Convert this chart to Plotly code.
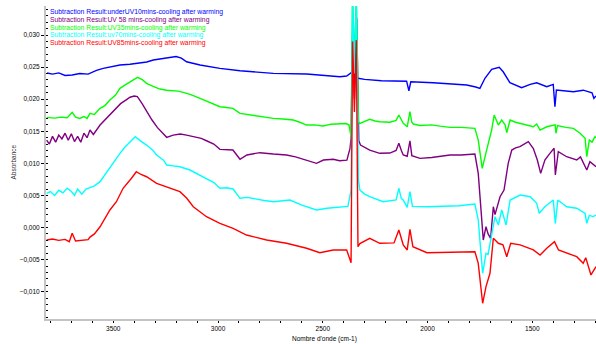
import plotly.graph_objects as go

# ---------------- data ----------------
series_names = [
    "Subtraction Result:underUV10mins-cooling after warming",
    "Subtraction Result:UV 58 mins-cooling after warming",
    "Subtraction Result:UV35mins-cooling after warming",
    "Subtraction Result:uv70mins-cooling after warming",
    "Subtraction Result:UV85mins-cooling after warming",
]
series_colors = ["#0000ff", "#800080", "#00ff00", "#00ffff", "#ff0000"]

blue_wn = [3816, 3790, 3760, 3730, 3696, 3660, 3620, 3580, 3548, 3510, 3468, 3420, 3388, 3340, 3309, 3270,
           3230, 3200, 3175, 3150, 3086, 2991, 2895, 2736, 2577, 2418, 2386, 2365, 2356, 2345, 2332, 2300,
           2220, 2110, 2100, 2089, 2080, 1973, 1813, 1770, 1750, 1726, 1694, 1658, 1639, 1607, 1551, 1510,
           1479, 1431, 1400, 1392, 1385, 1304, 1257, 1215, 1206, 1196]
blue_ab = [0.02407, 0.02390, 0.02410, 0.02370, 0.02376, 0.02400, 0.02390, 0.02450, 0.02480, 0.02500, 0.02532,
           0.02545, 0.02558, 0.02580, 0.02610, 0.02630, 0.02660, 0.02665, 0.02640, 0.02583, 0.02532, 0.02480,
           0.02443, 0.02402, 0.02392, 0.02350, 0.02360, 0.02412, 0.02450, 0.02420, 0.02325, 0.02309, 0.02287,
           0.02287, 0.02280, 0.02131, 0.02270, 0.02256, 0.02220, 0.02190, 0.02169, 0.02325, 0.02465, 0.02496,
           0.02427, 0.02256, 0.02178, 0.02230, 0.02256, 0.02194, 0.02230, 0.01882, 0.02142, 0.02116, 0.02140,
           0.02100, 0.02013, 0.02049]

purple_wn = [3818, 3805, 3790, 3775, 3760, 3745, 3730, 3715, 3700, 3685, 3670, 3655, 3640, 3625, 3611, 3595,
             3563, 3540, 3516, 3490, 3465, 3440, 3420, 3400, 3385, 3363, 3340, 3315, 3290, 3277, 3245, 3214,
             3180, 3150, 3118, 3080, 3055, 3020, 2991, 2950, 2929, 2895, 2862, 2830, 2800, 2736, 2673, 2630,
             2594, 2530, 2497, 2450, 2420, 2385, 2370, 2365, 2358, 2349, 2338, 2328, 2320, 2300, 2276, 2228,
             2180, 2150, 2137, 2125, 2116, 2097, 2084, 2075, 2036, 1980, 1940, 1893, 1840, 1800, 1774, 1758,
             1742, 1734, 1721, 1711, 1699, 1686, 1678, 1654, 1635, 1615, 1598, 1580, 1559, 1535, 1519, 1495,
             1476, 1460, 1440, 1416, 1396, 1390, 1376, 1336, 1288, 1270, 1240, 1225, 1210, 1196]
purple_ab = [0.01363, 0.01300, 0.01420, 0.01330, 0.01440, 0.01380, 0.01470, 0.01360, 0.01460, 0.01340, 0.01420,
             0.01330, 0.01470, 0.01400, 0.01520, 0.01450, 0.01597, 0.01675, 0.01750, 0.01831, 0.01930, 0.01986,
             0.02030, 0.02049, 0.02040, 0.01935, 0.01800, 0.01675, 0.01560, 0.01519, 0.01405, 0.01440, 0.01457,
             0.01440, 0.01415, 0.01390, 0.01352, 0.01300, 0.01218, 0.01210, 0.01207, 0.01063, 0.01130, 0.01150,
             0.01166, 0.01145, 0.01130, 0.01100, 0.01067, 0.01000, 0.01052, 0.01063, 0.01040, 0.01050, 0.01234,
             0.01390, 0.03000, 0.02000, 0.03260, 0.01350, 0.01285, 0.01250, 0.01207, 0.01156, 0.01160, 0.01200,
             0.01312, 0.01200, 0.01130, 0.01110, 0.01352, 0.01120, 0.01078, 0.01090, 0.01110, 0.01130, 0.01130,
             0.01140, 0.01145, 0.00844, 0.00168, -0.00195, 0.00012, -0.00100, -0.00168, 0.00324, 0.00200, 0.00480,
             0.00584, 0.01000, 0.01207, 0.01240, 0.01259, 0.01300, 0.01337, 0.01230, 0.01052, 0.00844, 0.01052,
             0.01156, 0.01234, 0.00818, 0.01181, 0.01103, 0.01052, 0.01100, 0.00896, 0.01025, 0.00980, 0.00947]

green_wn = [3818, 3780, 3750, 3720, 3696, 3680, 3660, 3640, 3625, 3611, 3590, 3563, 3540, 3516, 3490, 3468,
            3445, 3420, 3400, 3384, 3360, 3341, 3310, 3277, 3245, 3214, 3190, 3166, 3130, 3086, 3040, 2991,
            2960, 2929, 2895, 2860, 2816, 2780, 2736, 2690, 2641, 2610, 2577, 2540, 2499, 2460, 2418, 2390,
            2375, 2365, 2358, 2349, 2340, 2330, 2323, 2300, 2276, 2250, 2228, 2180, 2150, 2137, 2125, 2116,
            2097, 2084, 2075, 2068, 2036, 1980, 1940, 1893, 1840, 1800, 1774, 1758, 1739, 1718, 1694, 1682,
            1662, 1646, 1630, 1622, 1606, 1580, 1558, 1530, 1495, 1479, 1463, 1431, 1400, 1391, 1387, 1380,
            1340, 1304, 1272, 1248, 1240, 1228, 1215, 1201, 1196]
green_ab = [0.01717, 0.01705, 0.01720, 0.01710, 0.01795, 0.01720, 0.01700, 0.01730, 0.01700, 0.01780, 0.01760,
            0.01857, 0.01900, 0.01986, 0.02060, 0.02169, 0.02220, 0.02272, 0.02320, 0.02340, 0.02300, 0.02246,
            0.02200, 0.02158, 0.02140, 0.02131, 0.02125, 0.02106, 0.02070, 0.02013, 0.01950, 0.01882, 0.01870,
            0.01857, 0.01779, 0.01760, 0.01737, 0.01720, 0.01701, 0.01690, 0.01675, 0.01640, 0.01597, 0.01600,
            0.01581, 0.01610, 0.01623, 0.01620, 0.01600, 0.01415, 0.03600, 0.02600, 0.03600, 0.01650, 0.01623,
            0.01660, 0.01686, 0.01660, 0.01648, 0.01640, 0.01670, 0.01753, 0.01680, 0.01623, 0.01570, 0.01804,
            0.01640, 0.01613, 0.01590, 0.01600, 0.01580, 0.01561, 0.01560, 0.01550, 0.01545, 0.01363, 0.00922,
            0.01207, 0.01519, 0.01753, 0.01597, 0.01675, 0.01600, 0.01477, 0.01675, 0.01640, 0.01623, 0.01600,
            0.01570, 0.01613, 0.01519, 0.01570, 0.01597, 0.01600, 0.01468, 0.01590, 0.01560, 0.01545, 0.01468,
            0.01390, 0.01103, 0.01363, 0.01330, 0.01415, 0.01400]

cyan_wn = [3818, 3800, 3780, 3760, 3740, 3720, 3700, 3685, 3670, 3650, 3630, 3611, 3590, 3563, 3540, 3516,
           3490, 3468, 3445, 3420, 3395, 3370, 3341, 3310, 3293, 3260, 3245, 3214, 3182, 3134, 3100, 3055,
           3020, 2991, 2960, 2928, 2895, 2860, 2816, 2780, 2736, 2690, 2657, 2600, 2530, 2480, 2418, 2400,
           2380, 2365, 2358, 2349, 2340, 2330, 2323, 2300, 2276, 2212, 2150, 2137, 2125, 2116, 2097, 2084,
           2072, 2000, 1940, 1850, 1774, 1758, 1737, 1721, 1711, 1694, 1678, 1662, 1646, 1625, 1606, 1558,
           1510, 1479, 1467, 1440, 1400, 1390, 1378, 1336, 1288, 1248, 1240, 1228, 1210, 1196]
cyan_ab = [0.00533, 0.00560, 0.00500, 0.00580, 0.00540, 0.00611, 0.00560, 0.00500, 0.00600, 0.00520, 0.00600,
           0.00620, 0.00650, 0.00714, 0.00820, 0.00947, 0.01050, 0.01156, 0.01250, 0.01337, 0.01415, 0.01350,
           0.01285, 0.01200, 0.01130, 0.01050, 0.00974, 0.00960, 0.00947, 0.00896, 0.00840, 0.00767, 0.00700,
           0.00611, 0.00620, 0.00600, 0.00455, 0.00470, 0.00440, 0.00420, 0.00402, 0.00420, 0.00428, 0.00350,
           0.00273, 0.00300, 0.00324, 0.00320, 0.00330, 0.00584, 0.03600, 0.02400, 0.03600, 0.00750, 0.00584,
           0.00520, 0.00480, 0.00402, 0.00430, 0.00611, 0.00450, 0.00428, 0.00315, 0.00558, 0.00330, 0.00324,
           0.00330, 0.00340, 0.00366, 0.00117, -0.00714, -0.00402, -0.00420, -0.00090, 0.00168, 0.00039, 0.00273,
           0.00039, 0.00428, 0.00506, 0.00480, 0.00377, 0.00221, 0.00324, 0.00428, 0.00065, 0.00428, 0.00324,
           0.00300, 0.00221, 0.00065, 0.00190, 0.00170, 0.00195]

red_wn = [3818, 3790, 3760, 3730, 3710, 3696, 3680, 3650, 3620, 3611, 3590, 3563, 3540, 3516, 3485, 3453,
          3413, 3390, 3370, 3341, 3293, 3230, 3182, 3150, 3118, 3055, 2991, 2928, 2864, 2768, 2673, 2577,
          2514, 2450, 2386, 2365, 2358, 2349, 2340, 2332, 2323, 2276, 2228, 2160, 2137, 2116, 2097, 2084,
          2070, 2003, 1900, 1850, 1774, 1758, 1737, 1721, 1702, 1686, 1662, 1640, 1622, 1603, 1558, 1495,
          1463, 1431, 1394, 1375, 1336, 1288, 1257, 1245, 1220, 1196]
red_ab = [-0.00195, -0.00180, -0.00200, -0.00185, -0.00221, -0.00090, -0.00210, -0.00200, -0.00190, -0.00150,
          -0.00100, 0.00012, 0.00150, 0.00273, 0.00402, 0.00611, 0.00767, 0.00869, 0.00830, 0.00791, 0.00689,
          0.00611, 0.00558, 0.00460, 0.00324, 0.00168, 0.00065, -0.00012, -0.00117, -0.00195, -0.00246, -0.00324,
          -0.00393, -0.00350, -0.00350, -0.00548, 0.02900, 0.01800, 0.02920, -0.00299, -0.00250, -0.00168,
          -0.00246, -0.00240, -0.00039, -0.00270, -0.00350, -0.00030, -0.00299, -0.00393, -0.00390, -0.00385,
          -0.00377, -0.00558, -0.01181, -0.00922, -0.00714, -0.00168, -0.00246, -0.00270, -0.00455, -0.00246,
          -0.00270, -0.00350, -0.00428, -0.00324, -0.00221, -0.00350, -0.00402, -0.00455, -0.00558, -0.00470,
          -0.00740, -0.00610]

series_wn = [blue_wn, purple_wn, green_wn, cyan_wn, red_wn]
series_ab = [blue_ab, purple_ab, green_ab, cyan_ab, red_ab]

x_title = "Nombre d'onde (cm-1)"
y_title = "Absorbance"

# ---------------- figure ----------------
FONT = "Liberation Sans, Arial, sans-serif"
fig = go.Figure()
for name, col, wn, ab in zip(series_names, series_colors, series_wn, series_ab):
    fig.add_trace(go.Scatter(x=wn, y=ab, mode="lines", name=name,
                             line=dict(color=col, width=1.4), showlegend=False))

# legend as coloured text
leg_y = [0.9818, 0.9562, 0.9307, 0.9064, 0.8808]
for name, col, yy in zip(series_names, series_colors, leg_y):
    fig.add_annotation(text=name, xref="paper", yref="paper", x=0.004, y=yy,
                       xanchor="left", yanchor="middle", showarrow=False,
                       font=dict(family=FONT, size=6.8, color=col))

fig.add_annotation(text=y_title, xref="paper", yref="paper", x=-0.06, y=0.5,
                   textangle=-90, showarrow=False, xanchor="center", yanchor="middle",
                   font=dict(family=FONT, size=6.5, color="#333333"))
fig.add_annotation(text=x_title, xref="paper", yref="paper", x=0.507, y=-0.064,
                   showarrow=False, xanchor="center", yanchor="middle",
                   font=dict(family=FONT, size=6.5, color="#000000"))

fig.update_layout(
    width=596, height=344,
    margin=dict(l=46, r=0, t=6, b=25),
    paper_bgcolor="white", plot_bgcolor="white",
    separators=", ",
    font=dict(family=FONT, size=6.5, color="black"),
)
fig.update_xaxes(range=[3821, 1196], dtick=500, tick0=0, showgrid=False, zeroline=False,
                 showline=True, linecolor="#c4c4c4", linewidth=2,
                 ticks="outside", ticklen=2, tickcolor="black", tickwidth=1,
                 minor=dict(dtick=100, ticks="outside", ticklen=2, tickcolor="black"),
                 tickfont=dict(family=FONT, size=6.5, color="black"))
fig.update_yaxes(range=[-0.01426, 0.03452], dtick=0.005, tick0=0, tickformat=".3f",
                 showgrid=False, zeroline=False,
                 showline=True, linecolor="#c4c4c4", linewidth=2,
                 ticks="outside", ticklen=3, tickcolor="black", tickwidth=1,
                 minor=dict(dtick=0.001, ticks="inside", ticklen=2, tickcolor="black"),
                 tickfont=dict(family=FONT, size=6.5, color="black"))

fig.write_html("out.html")
